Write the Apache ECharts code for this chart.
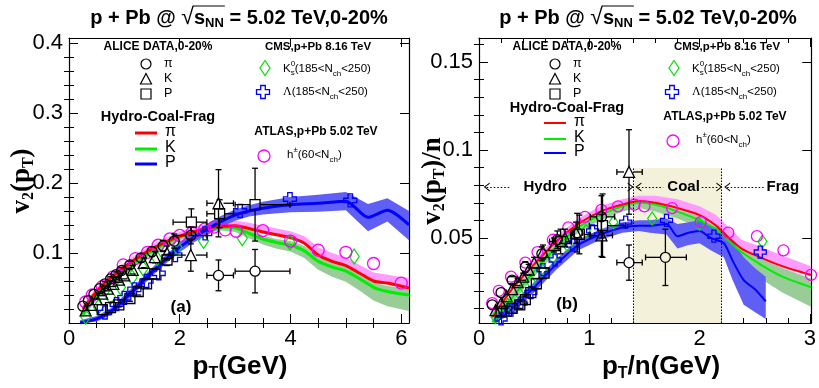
<!DOCTYPE html>
<html><head><meta charset="utf-8">
<script src="https://cdn.jsdelivr.net/npm/echarts@6/dist/echarts.min.js"></script>
<style>html,body{margin:0;padding:0;background:#fff}#c{width:819px;height:388px}</style>
</head><body><div id="c"></div>
<script>
// ---------------- Panel (a): v2 vs pT ----------------
const aXTicks = [0, 2, 4, 6];
const aXLabels = ['0', '2', '4', '6'];
const aXMinor = [0.5, 1, 1.5, 2.5, 3, 3.5, 4.5, 5, 5.5];
const aYTicks = [0.1, 0.2, 0.3, 0.4];
const aYLabels = ['0.1', '0.2', '0.3', '0.4'];
const aYMinor = [0.02, 0.04, 0.06, 0.08, 0.12, 0.14, 0.16, 0.18, 0.22, 0.24, 0.26, 0.28, 0.32, 0.34, 0.36, 0.38];

const aRedX   = [0.25,0.5,0.75,1.0,1.25,1.5,1.75,2.0,2.25,2.5,2.75,3.0,3.25,3.5,3.75,4.0,4.25,4.5,4.75,5.0,5.25,5.5,5.75,6.14];
const aRedY   = [0.020,0.045,0.064,0.080,0.094,0.106,0.116,0.124,0.130,0.135,0.138,0.139,0.135,0.130,0.126,0.122,0.114,0.097,0.088,0.082,0.071,0.060,0.057,0.050];
const aPinkLo = [0.018,0.043,0.062,0.078,0.092,0.104,0.114,0.122,0.128,0.133,0.136,0.137,0.133,0.128,0.124,0.120,0.112,0.095,0.086,0.080,0.069,0.058,0.055,0.048];
const aPinkHi = [0.026,0.051,0.070,0.086,0.100,0.112,0.122,0.130,0.137,0.142,0.145,0.146,0.143,0.139,0.135,0.131,0.124,0.108,0.100,0.094,0.083,0.072,0.069,0.064];
const aGreenY = [0.012,0.038,0.058,0.075,0.090,0.103,0.114,0.123,0.129,0.134,0.137,0.136,0.128,0.120,0.115,0.111,0.103,0.088,0.080,0.074,0.063,0.051,0.045,0.040];
const aGreenLo= [0.007,0.033,0.053,0.070,0.085,0.098,0.109,0.118,0.124,0.129,0.132,0.130,0.121,0.112,0.106,0.102,0.093,0.076,0.066,0.059,0.046,0.032,0.024,0.017];
const aGreenHi= [0.016,0.042,0.062,0.079,0.094,0.107,0.118,0.127,0.133,0.138,0.141,0.140,0.133,0.125,0.120,0.117,0.110,0.095,0.087,0.081,0.070,0.058,0.053,0.049];
const aBlueX  = [0.2,0.5,0.75,1.0,1.25,1.5,1.75,2.0,2.25,2.5,2.75,3.0,3.25,3.5,4.0,4.5,5.0,5.4,5.75,6.14];
const aBlueY  = [0.000,0.006,0.016,0.034,0.053,0.073,0.091,0.108,0.122,0.134,0.145,0.154,0.160,0.164,0.169,0.171,0.174,0.151,0.161,0.140];
const aBlueLo = [0.000,0.002,0.011,0.028,0.047,0.067,0.085,0.101,0.115,0.126,0.137,0.146,0.152,0.155,0.158,0.159,0.161,0.131,0.145,0.118];
const aBlueHi = [0.004,0.010,0.021,0.040,0.059,0.079,0.097,0.115,0.129,0.142,0.153,0.162,0.168,0.173,0.180,0.183,0.187,0.170,0.178,0.160];

const aPiX   = [0.25,0.35,0.45,0.55,0.65,0.75,0.85,0.95,1.1,1.3,1.5,1.7,1.9,2.2,2.7,3.36];
const aPiY   = [0.024,0.032,0.041,0.049,0.056,0.063,0.069,0.075,0.083,0.093,0.102,0.110,0.117,0.125,0.068,0.074];
const aPiYErr= [0,0,0,0,0.003,0.003,0.004,0.004,0.005,0.006,0.007,0.008,0.010,0.012,0.022,0.031];
const aPiXLo = [0,0,0,0,0,0,0,0,0,0,0,0,0,0.32,0.21,0.36];
const aPiXHi = [0,0,0,0,0,0,0,0,0,0,0,0,0,0.29,0.27,0.63];

const aKX    = [0.3,0.4,0.5,0.6,0.7,0.8,0.9,1.0,1.15,1.35,1.55,1.77,2.2,2.7];
const aKY    = [0.018,0.026,0.034,0.042,0.049,0.056,0.062,0.068,0.076,0.086,0.094,0.100,0.097,0.171];
const aKYErr = [0,0,0,0.003,0.003,0.004,0.004,0.005,0.006,0.007,0.008,0.010,0.023,0.048];
const aKXLo  = [0,0,0,0,0,0,0,0,0,0,0,0,0.32,0.21];
const aKXHi  = [0,0,0,0,0,0,0,0,0,0,0,0,0.29,0.27];

const aPX    = [0.6,0.75,0.9,1.1,1.25,1.4,1.55,1.77,2.21,2.72,3.36];
const aPY    = [0.019,0.022,0.026,0.035,0.045,0.056,0.070,0.090,0.144,0.156,0.169];
const aPYErr = [0,0,0.003,0.004,0.005,0.006,0.007,0.008,0.019,0.020,0.052];
const aPXLo  = [0,0,0,0,0,0,0,0,0.33,0.23,0.36];
const aPXHi  = [0,0,0,0,0,0,0,0,0.28,0.25,0.63];

const aK0X   = [0.3,0.53,0.75,0.93,1.14,1.34,1.59,1.95,2.43,3.13,3.99,5.15];
const aK0Y   = [0.009,0.023,0.037,0.051,0.065,0.078,0.092,0.108,0.117,0.121,0.115,0.095];
const aLamX  = [0.65,0.86,1.0,1.18,1.4,1.62,1.92,2.46,3.09,3.99,5.08];
const aLamY  = [0.015,0.027,0.036,0.048,0.060,0.071,0.097,0.128,0.160,0.177,0.175];
const aHX    = [0.3,0.42,0.6,0.8,0.98,1.2,1.42,1.61,1.82,2.0,2.22,2.45,2.62,2.82,3.02,3.5,4.0,4.5,5.0,5.5,6.0];
const aHY    = [0.030,0.040,0.052,0.066,0.083,0.092,0.101,0.111,0.120,0.125,0.129,0.134,0.137,0.133,0.131,0.132,0.117,0.104,0.101,0.085,0.057];

// ---------------- Panel (b): v2/n vs pT/n ----------------
const bXTicks = [0, 1, 2, 3];
const bXLabels = ['0', '1', '2', '3'];
const bXMinor = [0.2,0.4,0.6,0.8,1.2,1.4,1.6,1.8,2.2,2.4,2.6,2.8];
const bYTicks = [0.05, 0.1, 0.15];
const bYLabels = ['0.05', '0.1', '0.15'];
const bYMinor = [0.01,0.02,0.03,0.04,0.06,0.07,0.08,0.09,0.11,0.12,0.13,0.14,0.16];

const bRedX   = [0.12,0.3,0.5,0.7,0.9,1.1,1.3,1.45,1.6,1.8,2.0,2.15,2.25,2.38,2.55,2.75,3.01];
const bRedY   = [0.005,0.021,0.035,0.048,0.058,0.065,0.069,0.071,0.070,0.067,0.063,0.057,0.051,0.044,0.039,0.034,0.029];
const bPinkLo = [0.004,0.020,0.034,0.047,0.057,0.064,0.068,0.070,0.069,0.066,0.062,0.056,0.050,0.043,0.038,0.033,0.028];
const bPinkHi = [0.008,0.024,0.038,0.051,0.061,0.068,0.072,0.074,0.074,0.072,0.068,0.063,0.057,0.049,0.045,0.040,0.034];
const bGreenY = [0.002,0.016,0.031,0.045,0.056,0.063,0.068,0.070,0.069,0.065,0.060,0.055,0.049,0.042,0.035,0.028,0.022];
const bGreenLo= [0.002,0.013,0.028,0.042,0.053,0.060,0.065,0.067,0.065,0.061,0.056,0.050,0.043,0.035,0.027,0.019,0.011];
const bGreenHi= [0.004,0.019,0.034,0.048,0.059,0.066,0.070,0.072,0.071,0.068,0.063,0.058,0.053,0.046,0.040,0.033,0.027];
const bBlueX  = [0.15,0.3,0.5,0.7,0.9,1.1,1.3,1.45,1.55,1.7,1.8,1.9,2.0,2.1,2.22,2.3,2.4,2.5,2.6];
const bBlueY  = [0.002,0.010,0.022,0.035,0.046,0.052,0.056,0.057,0.057,0.058,0.051,0.053,0.054,0.050,0.047,0.037,0.026,0.021,0.014];
const bBlueLo = [0.002,0.007,0.019,0.032,0.043,0.049,0.053,0.054,0.053,0.052,0.044,0.046,0.047,0.043,0.039,0.026,0.012,0.008,0.004];
const bBlueHi = [0.005,0.013,0.025,0.038,0.049,0.055,0.059,0.060,0.060,0.061,0.058,0.059,0.060,0.057,0.054,0.048,0.039,0.033,0.028];

const bPiX   = [0.12,0.2,0.3,0.42,0.57,0.71,0.89,1.11,1.36,1.69];
const bPiY   = [0.012,0.019,0.026,0.0335,0.041,0.049,0.053,0.062,0.036,0.039];
const bPiYErr= [0,0,0.002,0.003,0.004,0.005,0.011,0.012,0.010,0.016];
const bPiXLo = [0,0,0,0,0,0,0.05,0.10,0.11,0.18];
const bPiXHi = [0,0,0,0,0,0,0.05,0.12,0.12,0.19];

const bKX    = [0.15,0.2,0.25,0.3,0.35,0.4,0.45,0.5,0.58,0.68,0.78,0.88,1.11,1.36];
const bKY    = [0.009,0.013,0.017,0.021,0.025,0.028,0.032,0.036,0.042,0.046,0.050,0.053,0.0515,0.0875];
const bKYErr = [0,0,0,0,0.002,0.002,0.003,0.003,0.004,0.004,0.005,0.006,0.012,0.024];
const bKXLo  = [0,0,0,0,0,0,0,0,0,0,0,0,0.10,0.11];
const bKXHi  = [0,0,0,0,0,0,0,0,0,0,0,0,0.10,0.12];

const bPX    = [0.2,0.25,0.3,0.37,0.42,0.47,0.52,0.59,0.74,0.91,1.12];
const bPY    = [0.008,0.0085,0.010,0.012,0.015,0.019,0.024,0.030,0.048,0.052,0.057];
const bPYErr = [0,0,0,0.002,0.002,0.003,0.003,0.003,0.007,0.011,0.018];
const bPXLo  = [0,0,0,0,0,0,0,0,0.10,0.08,0.12];
const bPXHi  = [0,0,0,0,0,0,0,0,0.10,0.09,0.21];

const bK0X   = [0.15,0.26,0.37,0.47,0.57,0.67,0.8,0.97,1.22,1.57,2.0,2.57];
const bK0Y   = [0.005,0.012,0.018,0.025,0.032,0.039,0.046,0.054,0.059,0.061,0.058,0.048];
const bLamX  = [0.2,0.29,0.38,0.47,0.58,0.69,0.85,1.03,1.33,1.70,2.13,2.55];
const bLamY  = [0.004,0.009,0.013,0.019,0.032,0.0375,0.046,0.054,0.059,0.060,0.051,0.042];
const bHX    = [0.12,0.18,0.29,0.42,0.53,0.67,0.81,0.96,1.11,1.26,1.41,1.5,1.75,2.01,2.26,2.52,2.76,3.01];
const bHY    = [0.013,0.020,0.028,0.036,0.042,0.049,0.056,0.062,0.066,0.068,0.069,0.068,0.067,0.059,0.053,0.051,0.043,0.029];

// regions in panel (b)
const coalRange = [1.4, 2.2];
const coalTop = 0.0898;
const arrowY = 0.079;
const regionSegs = [[0.07, 0.29, 'start'], [0.91, 1.375, 'end'], [1.445, 1.67, 'start'], [2.02, 2.18, 'end'], [2.25, 2.59, 'start']];
const regionNames = ['Hydro', 'Coal', 'Frag'];
const regionLabelX = [0.60, 1.855, 2.755];

// ---------------- helpers ----------------
const SANS = '"Liberation Sans", Arial, sans-serif';
const SERIF = '"Liberation Serif", "Times New Roman", serif';
const cv = document.createElement('canvas').getContext('2d');
function tw(t, f) { cv.font = f; return cv.measureText(t).width; }
function fnt(size, bold, fam) { return (bold ? 'bold ' : '') + size + 'px ' + (fam || SANS); }

function textRow(x, y, pieces, align, rot) {
  let total = 0;
  pieces.forEach(p => { if (!p.noAdv) total += tw(p.t, p.f); });
  let cx = align === 'center' ? -total / 2 : 0;
  const ch = [];
  let overStart = null, overEnd = null;
  pieces.forEach(p => {
    const w = tw(p.t, p.f);
    ch.push({ type: 'text', x: cx, y: p.dy || 0, silent: true,
      style: { text: p.t, font: p.f, fill: p.c || '#000', align: 'left', verticalAlign: 'middle' } });
    if (p.over) { if (overStart === null) overStart = cx; overEnd = cx + w; }
    if (!p.noAdv) cx += w;
  });
  if (overStart !== null) {
    ch.push({ type: 'line', silent: true, shape: { x1: overStart - 1, y1: -12, x2: overEnd + 1, y2: -12 }, style: { stroke: '#000', lineWidth: 1.2 } });
  }
  return { type: 'group', x, y, rotation: rot || 0, silent: true, children: ch };
}

function axisGroup(dim, gi, min, max, major, labels, minor) {
  const isX = dim === 'x';
  const p = isX ? ['bottom', 'top'] : ['left', 'right'];
  const base = { type: 'value', gridIndex: gi, min, max, splitLine: { show: false }, axisPointer: { show: false } };
  const line = { show: true, onZero: false, lineStyle: { color: '#000', width: 1.2 } };
  const tl = { color: '#000', width: 1 };
  const fmt = v => { const i = major.findIndex(m => Math.abs(m - v) < 1e-9); return i >= 0 ? labels[i] : ''; };
  return [
    Object.assign({}, base, { position: p[0], axisLine: line, axisTick: { show: true, inside: true, length: 9, customValues: major, lineStyle: tl },
      axisLabel: { show: true, customValues: major, formatter: fmt, fontSize: 22, fontFamily: SANS, color: '#000', margin: isX ? 5 : 6 } }),
    Object.assign({}, base, { position: p[1], axisLine: line, axisTick: { show: true, inside: true, length: 9, customValues: major, lineStyle: tl }, axisLabel: { show: false } }),
    Object.assign({}, base, { position: p[1], axisLine: { show: false }, axisTick: { show: true, inside: true, length: 5, customValues: minor, lineStyle: tl }, axisLabel: { show: false } }),
    Object.assign({}, base, { position: p[0], axisLine: { show: false }, axisTick: { show: true, inside: true, length: 5, customValues: minor, lineStyle: tl }, axisLabel: { show: false } })
  ];
}

function zip(xs, ys) { return xs.map((x, i) => [x, ys[i]]); }

function band(gi, xs, lo, hi, color) {
  return { type: 'custom', xAxisIndex: gi * 4, yAxisIndex: gi * 4, z: 1, silent: true,
    encode: { x: 0, y: 1 },
    data: xs.map((x, i) => [x, lo[i], hi[i]]),
    renderItem: (params, api) => {
      if (params.dataIndex !== 0) return null;
      const pts = [];
      for (let i = 0; i < xs.length; i++) pts.push(api.coord([xs[i], hi[i]]));
      for (let i = xs.length - 1; i >= 0; i--) pts.push(api.coord([xs[i], lo[i]]));
      return { type: 'polygon', shape: { points: pts }, style: { fill: color } };
    } };
}

function curve(gi, xs, ys, color, w) {
  return { type: 'line', xAxisIndex: gi * 4, yAxisIndex: gi * 4, z: 2, silent: true, symbol: 'none', showSymbol: false,
    smooth: 0.25, data: zip(xs, ys), lineStyle: { color, width: w } };
}

function marks(gi, xs, ys, symbol, size, color, bw, z) {
  return { type: 'scatter', xAxisIndex: gi * 4, yAxisIndex: gi * 4, z: z || 3, silent: true, symbol, symbolSize: size,
    data: zip(xs, ys), itemStyle: { color: 'rgba(0,0,0,0)', borderColor: color, borderWidth: bw || 1.3, opacity: 1 } };
}

function errs(gi, xs, ys, xlo, xhi, yerr, gap) {
  return { type: 'custom', xAxisIndex: gi * 4, yAxisIndex: gi * 4, z: 4, silent: true, encode: { x: 0, y: 1 },
    data: xs.map((x, i) => [x, ys[i], xlo[i], xhi[i], yerr[i]]),
    renderItem: (params, api) => {
      const x = api.value(0), y = api.value(1), xl = api.value(2), xh = api.value(3), ye = api.value(4);
      const c = api.coord([x, y]);
      const st = { stroke: '#000', lineWidth: 1.3 };
      const ch = [];
      const L = (x1, y1, x2, y2) => ch.push({ type: 'line', shape: { x1, y1, x2, y2 }, style: st });
      if (ye > 0) {
        const top = api.coord([x, y + ye])[1], bot = api.coord([x, y - ye])[1];
        if (c[1] - gap > top) L(c[0], top, c[0], c[1] - gap);
        if (bot > c[1] + gap) L(c[0], c[1] + gap, c[0], bot);
        L(c[0] - 3, top, c[0] + 3, top); L(c[0] - 3, bot, c[0] + 3, bot);
      }
      if (xl > 0 || xh > 0) {
        const left = api.coord([x - xl, y])[0], right = api.coord([x + xh, y])[0];
        if (c[0] - gap > left) L(left, c[1], c[0] - gap, c[1]);
        if (right > c[0] + gap) L(c[0] + gap, c[1], right, c[1]);
        L(left, c[1] - 3, left, c[1] + 3); L(right, c[1] - 3, right, c[1] + 3);
      }
      return ch.length ? { type: 'group', children: ch } : null;
    } };
}

const CROSS = 'path://M3.3,0 L6.7,0 L6.7,3.3 L10,3.3 L10,6.7 L6.7,6.7 L6.7,10 L3.3,10 L3.3,6.7 L0,6.7 L0,3.3 L3.3,3.3 Z';
const CHEV = 'path://M0,10 L5,0 L10,10 L8.6,10 L5,2.8 L1.4,10 Z';

const RED = '#ff0000', GREEN = '#00ee00', BLUE = '#0000ff', MAG = '#ff00ff', DGREEN = '#00dd00';

function panelSeries(gi, d) {
  const s = [];
  s.push(band(gi, d.gx, d.glo, d.ghi, '#98cd98'));
  s.push(band(gi, d.gx, d.plo, d.phi, '#ff9cff'));
  s.push(band(gi, d.bx, d.blo, d.bhi, '#5f5ff5'));
  s.push(curve(gi, d.gx, d.gy, GREEN, d.lw));
  s.push(curve(gi, d.gx, d.ry, RED, d.lw));
  s.push(curve(gi, d.bx, d.by, BLUE, d.lw));
  s.push(marks(gi, d.k0x, d.k0y, 'diamond', d.dsz, DGREEN, 1.2, 3));
  s.push(marks(gi, d.lx, d.ly, CROSS, d.csz, BLUE, 1.3, 3));
  s.push(marks(gi, d.hx, d.hy, 'circle', d.hsz, MAG, 1.3, 3));
  s.push(errs(gi, d.pix, d.piy, d.pixl, d.pixh, d.piye, 5));
  s.push(errs(gi, d.kx, d.ky, d.kxl, d.kxh, d.kye, 5));
  s.push(errs(gi, d.px, d.py, d.pxl, d.pxh, d.pye, 5));
  s.push(marks(gi, d.pix, d.piy, 'circle', 10, '#000', 1.3, 5));
  s.push(marks(gi, d.kx, d.ky, 'triangle', 11, '#000', 1.3, 5));
  s.push(marks(gi, d.px, d.py, 'rect', 10, '#000', 1.3, 5));
  return s;
}

const seriesA = panelSeries(0, {
  gx: aRedX, ry: aRedY, plo: aPinkLo, phi: aPinkHi, gy: aGreenY, glo: aGreenLo, ghi: aGreenHi,
  bx: aBlueX, by: aBlueY, blo: aBlueLo, bhi: aBlueHi, lw: 3,
  k0x: aK0X, k0y: aK0Y, lx: aLamX, ly: aLamY, hx: aHX, hy: aHY,
  pix: aPiX, piy: aPiY, pixl: aPiXLo, pixh: aPiXHi, piye: aPiYErr,
  kx: aKX, ky: aKY, kxl: aKXLo, kxh: aKXHi, kye: aKYErr,
  px: aPX, py: aPY, pxl: aPXLo, pxh: aPXHi, pye: aPYErr,
  dsz: [10, 15], csz: 13, hsz: 12
});
const seriesB = panelSeries(1, {
  gx: bRedX, ry: bRedY, plo: bPinkLo, phi: bPinkHi, gy: bGreenY, glo: bGreenLo, ghi: bGreenHi,
  bx: bBlueX, by: bBlueY, blo: bBlueLo, bhi: bBlueHi, lw: 2,
  k0x: bK0X, k0y: bK0Y, lx: bLamX, ly: bLamY, hx: bHX, hy: bHY,
  pix: bPiX, piy: bPiY, pixl: bPiXLo, pixh: bPiXHi, piye: bPiYErr,
  kx: bKX, ky: bKY, kxl: bKXLo, kxh: bKXHi, kye: bKYErr,
  px: bPX, py: bPY, pxl: bPXLo, pxh: bPXHi, pye: bPYErr,
  dsz: [9, 13], csz: 12, hsz: 11
});

const bYMin = 0.0017, bYMax = 0.1636;
const annot = {
  type: 'line', xAxisIndex: 4, yAxisIndex: 4, z: 0, silent: true, data: [],
  markArea: { silent: true, itemStyle: { color: '#f3f1d9' },
    data: [[{ coord: [coalRange[0], bYMin] }, { coord: [coalRange[1], coalTop] }]] },
  markLine: { silent: true, animation: false, label: { show: false }, symbolSize: [9, 6],
    lineStyle: { color: '#000', type: [1.5, 2], width: 1.2 },
    data: regionSegs.map(s => [
      { coord: [s[0], arrowY], symbol: s[2] === 'start' ? CHEV : 'none' },
      { coord: [s[1], arrowY], symbol: s[2] === 'end' ? CHEV : 'none' }
    ]).concat(coalRange.map(x => [
      { coord: [x, bYMin], symbol: 'none', lineStyle: { type: [1.5, 1.5], width: 1 } },
      { coord: [x, coalTop], symbol: 'none' }
    ])) },
  markPoint: { silent: true, symbol: 'circle', symbolSize: 1, itemStyle: { color: 'rgba(0,0,0,0)' },
    label: { show: true, position: 'inside', formatter: '{b}', fontWeight: 'bold', fontSize: 15, fontFamily: SANS, color: '#000' },
    data: regionNames.map((n, i) => ({ name: n, coord: [regionLabelX[i], arrowY] })) }
};

// ---------------- texts / legends ----------------
function titleG(cx) {
  const B20 = fnt(20, true), B13 = fnt(13, true);
  return textRow(cx, 18, [
    { t: 'p + Pb @ ', f: B20 }, { t: '\u221A', f: fnt(23, false) }, { t: 's', f: B20, over: true },
    { t: 'NN', f: B13, dy: 5, over: true }, { t: ' = 5.02 TeV,0-20%', f: B20 }
  ], 'center');
}
function legendG(dx, yl) {
  const g = [];
  const B12 = fnt(12, true), R12 = fnt(12.5, false), S = fnt(11.5, false), s8 = fnt(8, false);
  g.push(textRow(158 + dx, 47, [{ t: 'ALICE DATA,0-20%', f: B12 }], 'center'));
  g.push({ type: 'circle', shape: { cx: 146 + dx, cy: 64, r: 5 }, style: { fill: 'none', stroke: '#000', lineWidth: 1.2 }, silent: true });
  g.push({ type: 'polygon', shape: { points: [[146 + dx, 73.5], [140.5 + dx, 84], [151.5 + dx, 84]] }, style: { fill: 'none', stroke: '#000', lineWidth: 1.2 }, silent: true });
  g.push({ type: 'rect', shape: { x: 141 + dx, y: 89, width: 10, height: 10 }, style: { fill: 'none', stroke: '#000', lineWidth: 1.2 }, silent: true });
  g.push(textRow(164 + dx, 64, [{ t: '\u03C0', f: R12 }], 'left'));
  g.push(textRow(164 + dx, 79, [{ t: 'K', f: R12 }], 'left'));
  g.push(textRow(164 + dx, 94, [{ t: 'P', f: R12 }], 'left'));
  g.push(textRow(318 + dx, 47, [{ t: 'CMS,p+Pb 8.16 TeV', f: fnt(11.5, true) }], 'center'));
  g.push({ type: 'polygon', shape: { points: [[265 + dx, 60.5], [270 + dx, 68], [265 + dx, 75.5], [260 + dx, 68]] }, style: { fill: 'none', stroke: DGREEN, lineWidth: 1.2 }, silent: true });
  g.push(textRow(283 + dx, 69, [{ t: 'K', f: S }, { t: '0', f: s8, dy: -5, noAdv: true }, { t: 's', f: s8, dy: 4 },
    { t: '(185<N', f: S }, { t: 'ch', f: s8, dy: 5 }, { t: '<250)', f: S }], 'left'));
  const cx0 = 263 + dx, cy0 = 92, a = 2.3, b = 6.5;
  g.push({ type: 'polygon', shape: { points: [[cx0 - a, cy0 - b], [cx0 + a, cy0 - b], [cx0 + a, cy0 - a], [cx0 + b, cy0 - a], [cx0 + b, cy0 + a], [cx0 + a, cy0 + a], [cx0 + a, cy0 + b], [cx0 - a, cy0 + b], [cx0 - a, cy0 + a], [cx0 - b, cy0 + a], [cx0 - b, cy0 - a], [cx0 - a, cy0 - a]] },
    style: { fill: 'none', stroke: BLUE, lineWidth: 1.3 }, silent: true });
  g.push(textRow(283 + dx, 92, [{ t: '\u039B', f: fnt(12, false, SERIF) }, { t: '(185<N', f: S }, { t: 'ch', f: s8, dy: 5 }, { t: '<250)', f: S }], 'left'));
  g.push(textRow(158 + dx, yl.hcf, [{ t: 'Hydro-Coal-Frag', f: fnt(14.5, true) }], 'center'));
  const lw = yl.lw;
  [[yl.r, RED, '\u03C0'], [yl.g, GREEN, 'K'], [yl.b, BLUE, 'P']].forEach(r => {
    g.push({ type: 'line', shape: { x1: 135 + dx, y1: r[0], x2: 157 + dx, y2: r[0] }, style: { stroke: r[1], lineWidth: lw }, silent: true });
    g.push(textRow(165 + dx, r[0] - 1, [{ t: r[2], f: fnt(16, false) }], 'left'));
  });
  g.push(textRow(316 + dx, yl.atl, [{ t: 'ATLAS,p+Pb 5.02 TeV', f: fnt(12, true) }], 'center'));
  g.push({ type: 'circle', shape: { cx: 264 + dx, cy: yl.h, r: 6 }, style: { fill: 'none', stroke: MAG, lineWidth: 1.3 }, silent: true });
  g.push(textRow(287 + dx, yl.h - 1, [{ t: 'h', f: S }, { t: '\u00B1', f: s8, dy: -5 }, { t: '(60<N', f: S }, { t: 'ch', f: s8, dy: 5 }, { t: ')', f: S }], 'left'));
  return g;
}

const B26 = fnt(26, true), B16 = fnt(16, true);
const T26 = fnt(27, true, SERIF), T16 = fnt(16, true, SERIF);
const graphics = [].concat(
  [titleG(239), titleG(648)],
  legendG(0, { hcf: 117, r: 133, g: 149, b: 164, atl: 132, h: 156, lw: 3 }),
  legendG(409, { hcf: 108, r: 123, g: 139, b: 153, atl: 117, h: 141, lw: 2 }),
  [
    textRow(181, 307, [{ t: '(a)', f: fnt(17, true) }], 'center'),
    textRow(567, 304, [{ t: '(b)', f: fnt(17, true) }], 'center'),
    textRow(240, 367, [{ t: 'p', f: B26 }, { t: 'T', f: B16, dy: 7 }, { t: '(GeV)', f: B26 }], 'center'),
    textRow(661, 367, [{ t: 'p', f: B26 }, { t: 'T', f: B16, dy: 7 }, { t: '/n(GeV)', f: B26 }], 'center'),
    textRow(22, 181, [{ t: 'v', f: T26 }, { t: '2', f: T16, dy: 7 }, { t: '(', f: T26 }, { t: 'p', f: T26 }, { t: 'T', f: T16, dy: 7 }, { t: ')', f: T26 }], 'center', Math.PI / 2),
    textRow(433, 181, [{ t: 'v', f: T26 }, { t: '2', f: T16, dy: 7 }, { t: '(', f: T26 }, { t: 'p', f: T26 }, { t: 'T', f: T16, dy: 7 }, { t: ')/n', f: T26 }], 'center', Math.PI / 2)
  ]
);

const option = {
  animation: false,
  backgroundColor: '#fff',
  grid: [
    { left: 69, top: 38, width: 340, height: 285 },
    { left: 479, top: 38, width: 335, height: 285 }
  ],
  xAxis: [].concat(axisGroup('x', 0, 0, 6.14, aXTicks, aXLabels, aXMinor), axisGroup('x', 1, 0, 3.013, bXTicks, bXLabels, bXMinor)),
  yAxis: [].concat(axisGroup('y', 0, 0, 0.407, aYTicks, aYLabels, aYMinor), axisGroup('y', 1, bYMin, bYMax, bYTicks, bYLabels, bYMinor)),
  series: [annot].concat(seriesA, seriesB),
  graphic: { elements: graphics }
};

const chart = echarts.init(document.getElementById('c'), null, { renderer: 'canvas' });
chart.setOption(option);
</script></body></html>
